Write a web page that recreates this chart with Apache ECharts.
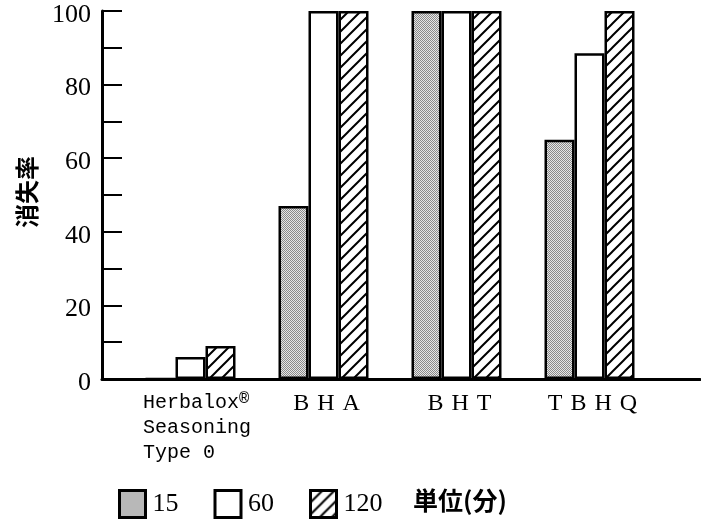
<!DOCTYPE html>
<html>
<head>
<meta charset="utf-8">
<script src="https://cdn.jsdelivr.net/npm/echarts@6/dist/echarts.min.js"></script>
<style>html,body{margin:0;padding:0;background:#fff;}#c{width:701px;height:520px;}</style>
</head>
<body>
<div id="c"></div>
<script>
// ---- data ----
const categories = ['Herbalox® Seasoning Type 0', 'BHA', 'BHT', 'TBHQ'];
const seriesNames = ['15', '60', '120'];
const values15 = [0, 47, 100, 65];
const values60 = [6, 100, 100, 88.5];
const values120 = [9, 100, 100, 100];
const yTicks = [0, 20, 40, 60, 80, 100];
const yName = '消失率';
const unitText = '単位(分)';

// ---- patterns ----
function stipple() {
  const c = document.createElement('canvas');
  c.width = 2; c.height = 2;
  const g = c.getContext('2d');
  g.fillStyle = '#e6e6e6'; g.fillRect(0, 0, 2, 2);
  g.fillStyle = '#8a8a8a'; g.fillRect(0, 0, 1, 1); g.fillRect(1, 1, 1, 1);
  return c;
}
function hatch() {
  const s = 12;
  const c = document.createElement('canvas');
  c.width = s; c.height = s;
  const g = c.getContext('2d');
  g.fillStyle = '#fff'; g.fillRect(0, 0, s, s);
  g.strokeStyle = '#000'; g.lineWidth = 2;
  g.beginPath();
  g.moveTo(0, s); g.lineTo(s, 0);
  g.moveTo(-s / 2, s / 2); g.lineTo(s / 2, -s / 2);
  g.moveTo(s / 2, s * 1.5); g.lineTo(s * 1.5, s / 2);
  g.stroke();
  return c;
}
const fills = [
  { image: stipple(), repeat: 'repeat' },
  '#ffffff',
  { image: hatch(), repeat: 'repeat' }
];
const seriesValues = [values15, values60, values120];

const serif = '"Liberation Serif", "DejaVu Serif", serif';
const mono = '"Liberation Mono", "DejaVu Sans Mono", monospace';
const cjk = '"Noto Sans CJK JP", "Noto Sans CJK SC", sans-serif';

const chart = echarts.init(document.getElementById('c'), null, { renderer: 'canvas' });
chart.setOption({
  animation: false,
  backgroundColor: '#fff',
  title: {
    text: unitText, left: 413, top: 488, padding: 0,
    textStyle: { fontFamily: cjk, fontWeight: 'bold', fontSize: 25, color: '#000' }
  },
  legend: {
    data: seriesNames, left: 118, top: 489, padding: 0,
    itemWidth: 26, itemHeight: 27, itemGap: 35,
    icon: 'rect',
    itemStyle: { borderColor: '#000', borderWidth: 3 },
    textStyle: { fontFamily: serif, fontSize: 26, color: '#000', padding: [0, 0, 0, 2] }
  },
  grid: [
    { left: 124, right: 45, top: 11, bottom: 141 },
    { left: 102, right: 1, top: 11, bottom: 141 }
  ],
  xAxis: [
    {
      type: 'category', gridIndex: 0, data: categories,
      axisLine: { show: false }, axisTick: { show: false },
      axisLabel: {
        interval: 0, margin: 11, color: '#000',
        formatter: function (v, i) {
          if (i === 0) {
            return '{h|Herbalox}{r|®}\n{h2|Seasoning}\n{h2|Type 0}';
          }
          return '{s|' + v.split('').join('\u2004') + '}';
        },
        rich: {
          h: { fontFamily: mono, fontSize: 20, width: 96, align: 'left', padding: [0, 0, 0, 17], lineHeight: 25, color: '#000' },
          r: { fontFamily: mono, fontSize: 17, width: 16, align: 'left', verticalAlign: 'top', lineHeight: 25, color: '#000' },
          h2: { fontFamily: mono, fontSize: 20, width: 112, align: 'left', padding: [0, 0, 0, 17], lineHeight: 25, color: '#000' },
          s: { fontFamily: serif, fontSize: 24, lineHeight: 28, color: '#000', padding: [0, 0, 0, 6] }
        }
      }
    },
    {
      type: 'value', gridIndex: 1, min: 0, max: 1,
      axisLine: { show: true, lineStyle: { color: '#000', width: 3 } },
      axisTick: { show: false }, axisLabel: { show: false }, splitLine: { show: false }
    }
  ],
  yAxis: [
    {
      type: 'value', gridIndex: 0, min: 0, max: 100, interval: 10, offset: 22,
      name: yName, nameLocation: 'middle', nameGap: 63, nameRotate: 90,
      nameTextStyle: { fontFamily: cjk, fontWeight: 'bold', fontSize: 24, color: '#000', padding: [0, 0, 0, 6] },
      axisLine: { show: true, lineStyle: { color: '#000', width: 3 } },
      axisTick: { show: true, inside: true, length: 20, lineStyle: { color: '#000', width: 2 } },
      axisLabel: {
        margin: 11, color: '#000', fontFamily: serif, fontSize: 26,
        verticalAlign: 'top', lineHeight: 8,
        formatter: function (v) { return yTicks.indexOf(v) >= 0 ? String(v) : ''; }
      },
      splitLine: { show: false }
    },
    { type: 'value', gridIndex: 1, min: 0, max: 100, show: false }
  ],
  series: seriesNames.map(function (n, k) {
    return {
      name: n, type: 'bar', xAxisIndex: 0, yAxisIndex: 0,
      data: seriesValues[k], barWidth: 30, barGap: '0%',
      itemStyle: { color: fills[k], borderColor: '#000', borderWidth: 2.5 }
    };
  })
});
</script>
</body>
</html>
